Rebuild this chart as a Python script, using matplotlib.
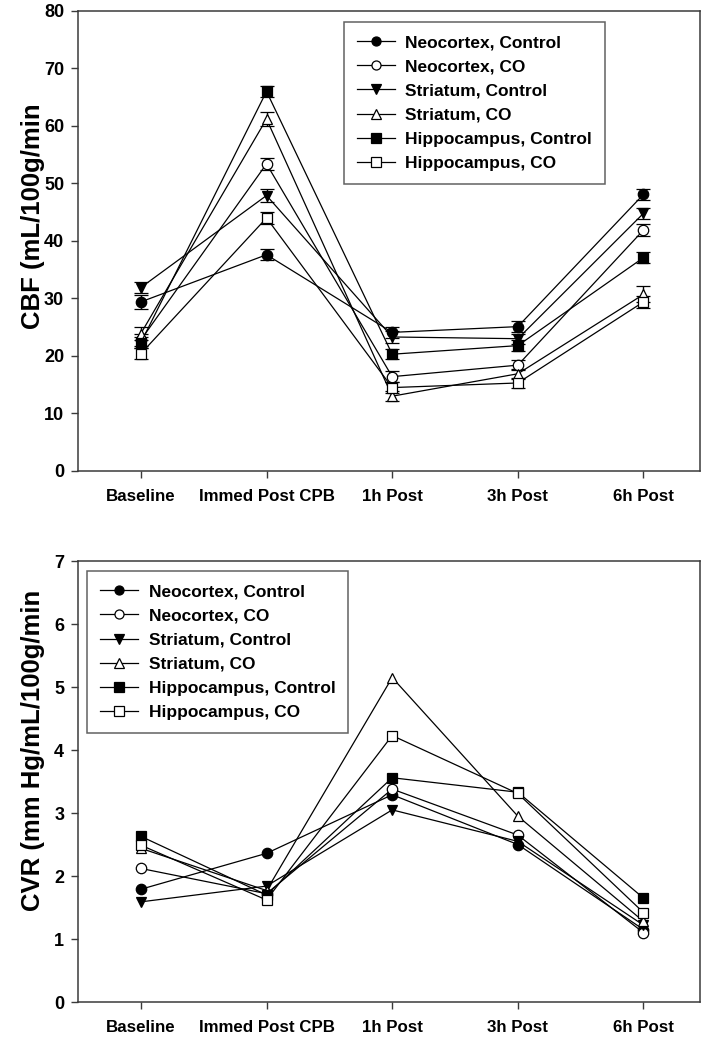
import matplotlib
matplotlib.use("Agg")
import matplotlib.pyplot as plt
from matplotlib.lines import Line2D

plt.rcParams['font.family'] = ['Liberation Sans', 'DejaVu Sans']
plt.rcParams['font.weight'] = 'bold'

timepoints = ["Baseline", "Immed Post CPB", "1h Post", "3h Post", "6h Post"]
series_names = ["Neocortex, Control", "Neocortex, CO", "Striatum, Control",
                "Striatum, CO", "Hippocampus, Control", "Hippocampus, CO"]

# CBF (mL/100g/min)
cbf_neo_ctrl = [29.4, 37.6, 24.1, 25.1, 48.1]
cbf_neo_co = [22.8, 53.4, 16.4, 18.4, 41.9]
cbf_str_ctrl = [31.9, 47.9, 23.3, 23.0, 44.8]
cbf_str_co = [23.9, 61.2, 13.0, 16.9, 30.7]
cbf_hip_ctrl = [22.3, 66.0, 20.3, 21.8, 37.1]
cbf_hip_co = [20.4, 44.0, 14.5, 15.3, 29.4]

cbf_neo_ctrl_err = [1.2, 1.0, 1.0, 1.0, 1.0]
cbf_neo_co_err = [1.0, 1.1, 0.9, 0.9, 1.1]
cbf_str_ctrl_err = [1.0, 1.1, 1.0, 0.9, 1.0]
cbf_str_co_err = [1.1, 1.2, 0.9, 0.9, 1.4]
cbf_hip_ctrl_err = [1.0, 1.0, 0.9, 1.0, 1.0]
cbf_hip_co_err = [1.0, 1.1, 0.9, 0.9, 1.0]

# CVR (mm Hg/mL/100g/min)
cvr_neo_ctrl = [1.79, 2.36, 3.29, 2.50, 1.15]
cvr_neo_co = [2.12, 1.72, 3.38, 2.65, 1.10]
cvr_str_ctrl = [1.59, 1.84, 3.05, 2.55, 1.22]
cvr_str_co = [2.44, 1.77, 5.15, 2.95, 1.28]
cvr_hip_ctrl = [2.63, 1.70, 3.56, 3.33, 1.65]
cvr_hip_co = [2.49, 1.62, 4.23, 3.31, 1.42]

cbf_values = [cbf_neo_ctrl, cbf_neo_co, cbf_str_ctrl, cbf_str_co, cbf_hip_ctrl, cbf_hip_co]
cbf_errors = [cbf_neo_ctrl_err, cbf_neo_co_err, cbf_str_ctrl_err, cbf_str_co_err,
              cbf_hip_ctrl_err, cbf_hip_co_err]
cvr_values = [cvr_neo_ctrl, cvr_neo_co, cvr_str_ctrl, cvr_str_co, cvr_hip_ctrl, cvr_hip_co]

markers = ['o', 'o', 'v', '^', 's', 's']
fills = ['black', 'white', 'black', 'white', 'black', 'white']

fig = plt.figure(figsize=(7.12, 10.51), dpi=100)
ax1 = fig.add_axes([0.1096, 0.5519, 0.8736, 0.4377])
ax2 = fig.add_axes([0.1096, 0.0466, 0.8736, 0.4196])

x = list(range(len(timepoints)))
spine_col = '#3a3a3a'
MS = 7.5

def style(ax, ylim, yticks, ylabel, label_y):
    ax.set_xlim(-0.5, 4.45)
    ax.set_ylim(*ylim)
    ax.set_xticks(x)
    ax.set_xticklabels(timepoints, fontsize=12.2, fontweight='bold')
    ax.set_yticks(yticks)
    ax.set_yticklabels([str(t) for t in yticks], fontsize=13, fontweight='bold')
    ax.tick_params(axis='both', direction='out', length=5, width=1, color=spine_col, pad=5)
    ax.tick_params(axis='x', pad=8)
    ax.tick_params(top=False, right=False)
    for s in ax.spines.values():
        s.set_color(spine_col)
        s.set_linewidth(1.1)
    ax.set_ylabel(ylabel, fontsize=18.5, fontweight='bold', va='center', ha='center')
    ax.yaxis.set_label_coords(-0.072, label_y)

for vals, errs, name, m, f in zip(cbf_values, cbf_errors, series_names, markers, fills):
    ax1.errorbar(x, vals, yerr=errs, color='black', linewidth=0.9, marker=m,
                 markersize=MS, markerfacecolor=f, markeredgecolor='black',
                 markeredgewidth=0.9, capsize=5, capthick=1.2, elinewidth=1.0,
                 zorder=3)

for vals, name, m, f in zip(cvr_values, series_names, markers, fills):
    ax2.plot(x, vals, color='black', linewidth=0.9, marker=m,
             markersize=MS, markerfacecolor=f, markeredgecolor='black',
             markeredgewidth=0.9, zorder=3)

style(ax1, (0, 80), list(range(0, 81, 10)), "CBF (mL/100g/min", 0.553)
style(ax2, (0, 7), list(range(0, 8)), "CVR (mm Hg/mL/100g/min", 0.57)

handles = [Line2D([], [], color='black', linewidth=0.9, marker=m, markersize=6.5,
                  markerfacecolor=f, markeredgecolor='black', markeredgewidth=0.9)
           for m, f in zip(markers, fills)]

leg_kw = dict(fontsize=12.5, frameon=True, fancybox=False, edgecolor=spine_col,
              handlelength=2.2, handletextpad=0.6, labelspacing=0.52,
              borderpad=0.75, borderaxespad=0)
lg1 = ax1.legend(handles, series_names, loc='upper left', bbox_to_anchor=(0.427, 0.976), **leg_kw)
lg2 = ax2.legend(handles, series_names, loc='upper left', bbox_to_anchor=(0.0145, 0.977), **leg_kw)
for lg in (lg1, lg2):
    lg.get_frame().set_linewidth(1.1)
    for t in lg.get_texts():
        t.set_fontweight('bold')

fig.savefig("out.png", dpi=100)
